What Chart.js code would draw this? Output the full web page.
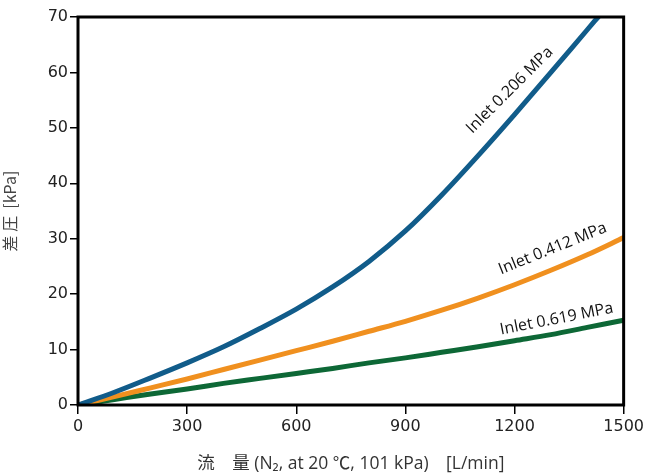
<!DOCTYPE html>
<html>
<head>
<meta charset="utf-8">
<script src="https://cdn.jsdelivr.net/npm/chart.js@4/dist/chart.umd.min.js"></script>
<style>
  html, body { margin: 0; padding: 0; background: #fff; }
  #wrap { width: 647px; height: 475px; }
</style>
</head>
<body>
<div id="wrap"><canvas id="chart"></canvas></div>
<script>
// flow [L/min] vs differential pressure [kPa]
const flow206 = [0, 100, 200, 300, 400, 500, 600, 700, 800, 900, 1000, 1100, 1200, 1300, 1400, 1430];
const dp206 = [0, 2.3, 4.9, 7.6, 10.5, 13.8, 17.3, 21.3, 25.9, 31.4, 37.9, 45.0, 52.4, 60.0, 67.7, 70.0];

const flow412 = [0, 100, 200, 300, 400, 500, 600, 700, 800, 900, 1000, 1100, 1200, 1300, 1400, 1500];
const dp412 = [0, 1.5, 3.1, 4.7, 6.4, 8.1, 9.8, 11.5, 13.3, 15.1, 17.1, 19.3, 21.7, 24.3, 27.1, 30.2];

const flow619 = [0, 100, 200, 300, 400, 500, 600, 700, 800, 900, 1000, 1100, 1200, 1300, 1400, 1500];
const dp619 = [0, 1.0, 2.0, 2.9, 3.9, 4.8, 5.7, 6.6, 7.6, 8.5, 9.5, 10.5, 11.6, 12.7, 14.0, 15.3];

const seriesNames = ['Inlet 0.206 MPa', 'Inlet 0.412 MPa', 'Inlet 0.619 MPa'];
const seriesColors = ['#115c8a', '#f0901f', '#0d6836'];
// where each curve's label sits, in data units, and its slant in degrees
const labelAnchors = [[1187, 56.8], [1305, 28.2], [1316, 15.5]];
const labelAngles = [-45, -22, -11];

const xTicks = [0, 300, 600, 900, 1200, 1500];

const toPoints = (xs, ys) => xs.map((x, i) => ({ x, y: ys[i] }));

const makeSet = (label, data, color) => ({
    label,
    data,
    borderColor: color,
    borderWidth: 5,
    pointRadius: 0,
    cubicInterpolationMode: 'monotone',
    fill: false,
    borderCapStyle: 'round',
});

// frame around the plot plus the slanted curve labels
const framePlugin = {
    id: 'frame',
    afterDatasetsDraw(chart) {
        const { ctx, chartArea, scales } = chart;
        ctx.save();
        ctx.strokeStyle = '#000';
        ctx.lineWidth = 3;
        ctx.strokeRect(chartArea.left, chartArea.top, chartArea.right - chartArea.left, chartArea.bottom - chartArea.top);

        ctx.fillStyle = '#111';
        ctx.font = '16px "Open Sans", "Noto Sans", sans-serif';
        ctx.textAlign = 'center';
        ctx.textBaseline = 'middle';
        labelAnchors.forEach(([vx, vy], i) => {
            const px = scales.x.getPixelForValue(vx);
            const py = scales.y.getPixelForValue(vy);
            ctx.save();
            ctx.translate(px, py);
            ctx.rotate(labelAngles[i] * Math.PI / 180);
            ctx.fillText(seriesNames[i], 0, 0);
            ctx.restore();
        });
        ctx.restore();
    }
};

const tickFont = { size: 16, family: 'Verdana, "DejaVu Sans", sans-serif' };

new Chart(document.getElementById('chart'), {
    type: 'line',
    data: {
        datasets: [
            makeSet(seriesNames[0], toPoints(flow206, dp206), seriesColors[0]),
            makeSet(seriesNames[1], toPoints(flow412, dp412), seriesColors[1]),
            makeSet(seriesNames[2], toPoints(flow619, dp619), seriesColors[2]),
        ],
    },
    options: {
        responsive: true,
        maintainAspectRatio: false,
        animation: false,
        layout: { padding: { top: 17, right: 23, left: 0, bottom: 0 } },
        plugins: {
            legend: { display: false },
            tooltip: { enabled: false },
        },
        scales: {
            x: {
                type: 'linear',
                min: 0,
                max: 1500,
                afterBuildTicks: (axis) => { axis.ticks = xTicks.map(v => ({ value: v })); },
                afterFit: (axis) => { axis.height = 70; },
                grid: { drawOnChartArea: false, drawTicks: true, tickLength: 9, color: '#000', lineWidth: 1.5 },
                border: { display: false },
                ticks: { color: '#222', font: tickFont, padding: 3, maxRotation: 0, callback: (v) => String(v) },
                title: {
                    display: true,
                    text: '流　量 (N₂, at 20 ℃, 101 kPa)　[L/min]',
                    color: '#333',
                    font: { size: 17.5, family: '"Open Sans", "Noto Sans CJK JP", sans-serif' },
                    padding: { top: 0, bottom: 0 },
                },
            },
            y: {
                type: 'linear',
                min: 0,
                max: 70,
                ticks: { stepSize: 10, color: '#222', font: tickFont, padding: 2, callback: (v) => String(v) },
                afterFit: (axis) => { axis.width = 78; },
                grid: { drawOnChartArea: false, drawTicks: true, tickLength: 8, color: '#000', lineWidth: 1.5 },
                border: { display: false },
                title: {
                    display: true,
                    text: '差 圧  [kPa]',
                    color: '#444',
                    font: { size: 16, family: '"Noto Sans CJK JP", "Open Sans", sans-serif' },
                    padding: { top: 0, bottom: 4 },
                },
            },
        },
    },
    plugins: [framePlugin],
});
</script>
</body>
</html>
